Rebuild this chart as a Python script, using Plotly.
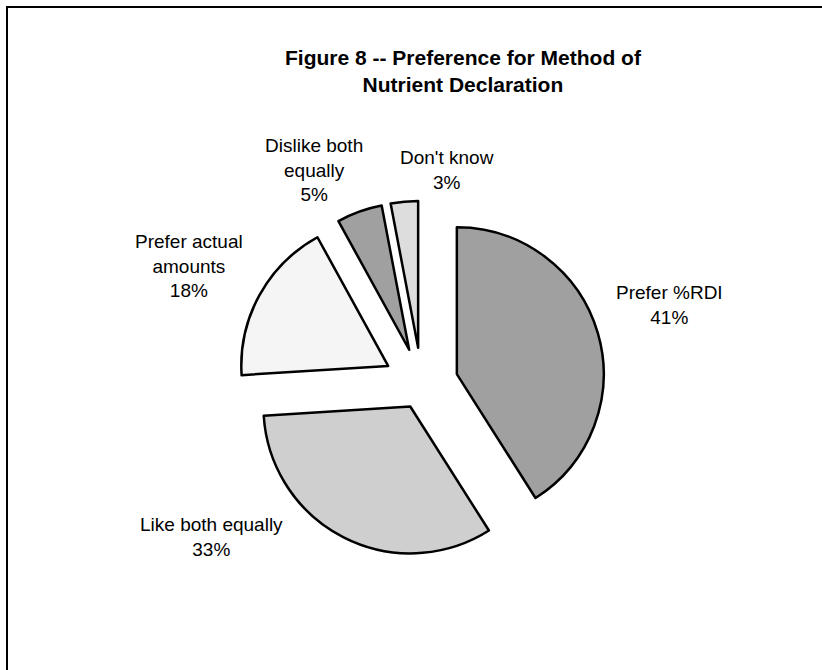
import plotly.graph_objects as go

# ---- data ----
categories = ["Prefer %RDI", "Like both equally", "Prefer actual amounts",
              "Dislike both equally", "Don't know"]
values = [41, 33, 18, 5, 3]
label_texts = ["Prefer %RDI<br>41%", "Like both equally<br>33%",
               "Prefer actual<br>amounts<br>18%", "Dislike both<br>equally<br>5%",
               "Don't know<br>3%"]

# ---- styles ----
colors = ["#a0a0a0", "#cfcfcf", "#f5f5f5", "#a0a0a0", "#dddddd"]
pulls = [0.25, 0.17, 0.26, 0.25, 0.25]
label_pos = [(669, 305), (211, 537), (189, 266), (314, 170), (447, 170)]

W, H = 822, 670
FONT = "Liberation Sans, Arial, sans-serif"

fig = go.Figure()
fig.add_trace(go.Pie(
    labels=categories,
    values=values,
    sort=False,
    direction="clockwise",
    rotation=0,
    pull=pulls,
    marker=dict(colors=colors, line=dict(color="black", width=2.5)),
    textinfo="none",
    hoverinfo="label+percent",
    showlegend=False,
    domain=dict(x=[236.6 / W, 606.6 / W], y=[1 - 570.3 / H, 1 - 198.3 / H]),
))

annotations = [dict(
    text="<b>Figure 8 -- Preference for Method of<br>Nutrient Declaration</b>",
    x=463.5 / W, y=1 - 71 / H, xref="paper", yref="paper",
    xanchor="center", yanchor="middle", showarrow=False,
    font=dict(family=FONT, size=21, color="black"),
)]
for txt, (px, py) in zip(label_texts, label_pos):
    annotations.append(dict(
        text=txt, x=px / W, y=1 - py / H, xref="paper", yref="paper",
        xanchor="center", yanchor="middle", showarrow=False, align="center",
        font=dict(family=FONT, size=19, color="black"),
    ))

fig.update_layout(
    width=W, height=H,
    margin=dict(l=0, r=0, t=0, b=0),
    paper_bgcolor="white",
    plot_bgcolor="white",
    annotations=annotations,
    shapes=[dict(type="rect", xref="paper", yref="paper",
                 x0=7 / W, y0=-0.05, x1=1.05, y1=1 - 7 / H,
                 line=dict(color="black", width=2), fillcolor="rgba(0,0,0,0)")],
)

fig.write_html("out.html")
